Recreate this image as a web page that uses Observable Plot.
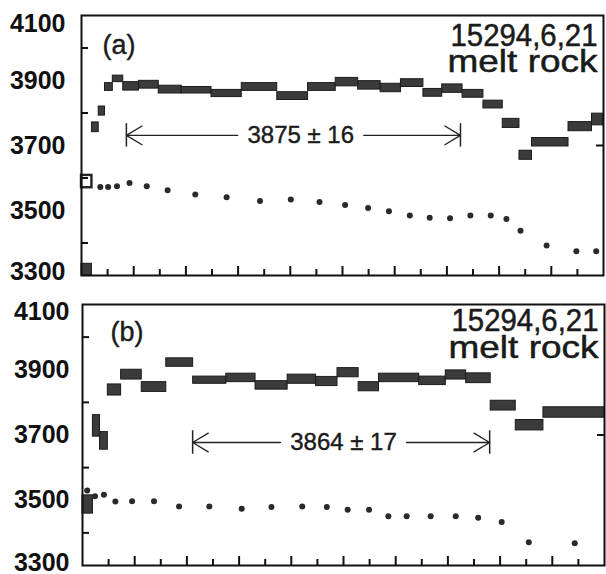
<!DOCTYPE html>
<html><head><meta charset="utf-8">
<script src="https://cdn.jsdelivr.net/npm/d3@7"></script>
<script src="https://cdn.jsdelivr.net/npm/@observablehq/plot@0.6"></script>
<style>
body{margin:0;background:#fff;}
#chart svg{display:block;}
</style>
</head><body><div id="chart"></div>
<script>
// ---------- Panel (a) ----------
const edgesA = [0, 2, 3.3, 4.5, 6, 8, 11, 14.8, 19.2, 24.9, 30.7, 37.5, 43.4, 48.7, 53, 57.3, 61.2, 65.5, 69.1, 73, 77, 80.7, 83.9, 86.3, 93.3, 97.8, 100];
const agesA  = [3318, 3756, 3806, 3880, 3905, 3882, 3887, 3872, 3870, 3860, 3880, 3852, 3880, 3895, 3885, 3877, 3892, 3862, 3875, 3859, 3826, 3768, 3670, 3710, 3758, 3780];
const errA   = [18, 15, 14, 12, 10, 13, 12, 12, 10, 11, 12, 12, 12, 13, 13, 13, 12, 12, 13, 12, 12, 14, 14, 13, 14, 18];
const openEdgesA = [0, 2];
const openAgeA = [3589];
const openErrA = [19];
const dotXA = [3.6, 5.1, 6.8, 9.2, 12.5, 16.5, 21.8, 27.8, 34.2, 40.1, 45.6, 50.5, 54.9, 58.9, 62.9, 66.7, 70.6, 74.5, 78.4, 81.4, 84.1, 89.1, 94.8, 98.6];
const dotYA = [3572, 3572, 3575, 3585, 3575, 3562, 3549, 3541, 3529, 3534, 3526, 3517, 3508, 3498, 3485, 3478, 3476, 3485, 3485, 3474, 3438, 3392, 3375, 3375];
const plateauA = {start: 8.6, end: 72.6, labelX: 42, y: 3731, label: "3875 ± 16"};

// ---------- Panel (b) ----------
const edgesB = [0, 2.0, 3.35, 4.85, 7.4, 11.35, 16.05, 21.2, 27.55, 33.15, 39.3, 44.75, 48.85, 52.9, 56.8, 64.5, 69.6, 73.5, 78.2, 83.0, 88.3, 100];
const agesB  = [3487, 3728, 3682, 3838, 3885, 3847, 3922, 3868, 3875, 3852, 3871, 3864, 3891, 3848, 3875, 3866, 3884, 3874, 3790, 3730, 3769];
const errB   = [28, 33, 27, 17, 15, 15, 13, 11, 13, 13, 14, 14, 14, 14, 13, 13, 14, 15, 15, 16, 16];
const dotXB = [0.9, 2.4, 4.1, 6.3, 9.5, 13.7, 18.5, 24.3, 30.5, 36.2, 42.1, 46.8, 50.8, 54.9, 58.6, 62.1, 66.7, 71.5, 75.8, 80.3, 85.5, 94.3];
const dotYB = [3530, 3512, 3517, 3496, 3497, 3497, 3481, 3481, 3474, 3479, 3481, 3479, 3471, 3471, 3451, 3451, 3451, 3451, 3446, 3433, 3371, 3368];
const plateauB = {start: 21.1, end: 78.0, labelX: 50, y: 3677, label: "3864 ± 17"};

// ---------- shared axis ticks / labels ----------
const yLabels = [3500, 3700, 3900];
const yTop = [4100];
const yBottom = [3300];
const yMinor = [3400, 3600, 3800, 4000];
const yRightTicks = [3700];
const xMajor = [10, 20, 30, 40, 50, 60, 70, 80, 90];
const xMinor = [5, 15, 25, 35, 45, 55, 65, 75, 85, 95];
const sampleId = "15294,6,21";
const sampleType = "melt rock";

const FONT = "'Liberation Sans', Arial, Helvetica, sans-serif";
const BAR_HALF = 36; // half-length of plateau end bars (in age units)

function steps(edges, ages, errs) {
  return ages.map((a, i) => ({x1: edges[i], x2: edges[i + 1], y1: a - errs[i], y2: a + errs[i]}));
}
function dots(xs, ys) { return xs.map((x, i) => ({x, y: ys[i]})); }

function panel(o) {
  const st = steps(o.edges, o.ages, o.errs);
  const pl = o.plateau;
  const pw = 606 - o.ml - o.mr;          // plot area width (px)
  const ph = o.height - o.mt - o.mb;     // plot area height (px)
  const fmt = d => String(d);
  const ink = "#1a1a1a";
  const marks = [
    Plot.rect(st, {x1: "x1", x2: "x2", y1: "y1", y2: "y2", fill: "#3b3b3b", stroke: "#1c1c1c", strokeWidth: 1}),
  ];
  if (o.open) marks.push(Plot.rect(o.open, {x1: "x1", x2: "x2", y1: "y1", y2: "y2", fill: "#fff", stroke: "#222", strokeWidth: 2.4}));
  marks.push(
    Plot.dot(dots(o.dx, o.dy), {x: "x", y: "y", r: 3, fill: "#2a2a2a", stroke: "none"}),
    // plateau arrows
    Plot.arrow([pl], {x1: "labelX", y1: "y", x2: "start", y2: "y", insetStart: 63, headLength: 21, headAngle: 62, stroke: "#222", strokeWidth: 1.3}),
    Plot.arrow([pl], {x1: "labelX", y1: "y", x2: "end", y2: "y", insetStart: 63, headLength: 21, headAngle: 62, stroke: "#222", strokeWidth: 1.3}),
    Plot.ruleX([pl.start, pl.end], {x: d => d, y1: pl.y - BAR_HALF, y2: pl.y + BAR_HALF, stroke: "#222", strokeWidth: 1.5}),
    Plot.text([pl], {x: "labelX", y: "y", text: "label", fontSize: 24, fill: ink, stroke: ink, strokeWidth: 0.4}),
    // inward ticks
    Plot.tickX(xMajor, {x: d => d, insetTop: ph - 9, stroke: "#111", strokeWidth: 2}),
    Plot.tickX(xMinor, {x: d => d, insetTop: ph - 6, stroke: "#111", strokeWidth: 2}),
    Plot.tickY(yMinor, {y: d => d, insetRight: pw - 7, stroke: "#111", strokeWidth: 2}),
    Plot.tickY(yRightTicks, {y: d => d, insetLeft: pw - 7, stroke: "#111", strokeWidth: 2}),
    // frame
    Plot.frame({stroke: "#111", strokeWidth: 2}),
    // y labels
    Plot.axisY(yLabels, {anchor: "left", tickSize: 0, tickPadding: o.pad, tickFormat: fmt, fontSize: 25, fontWeight: "bold", label: null}),
    Plot.axisY(yTop, {anchor: "left", tickSize: 0, tickPadding: o.pad, tickFormat: fmt, fontSize: 25, fontWeight: "bold", dy: o.topDy, label: null}),
    Plot.axisY(yBottom, {anchor: "left", tickSize: 0, tickPadding: o.pad, tickFormat: fmt, fontSize: 25, fontWeight: "bold", dy: o.botDy, label: null}),
    Plot.axisX([], {label: null}),
    // panel letter and sample names
    Plot.text([o.letter], {frameAnchor: "top-left", textAnchor: "start", lineAnchor: "middle", dx: o.letterDx, dy: o.letterDy, fontSize: 27, fill: ink, stroke: ink, strokeWidth: 0.4}),
    Plot.text([sampleId], {frameAnchor: "top-right", textAnchor: "end", lineAnchor: "top", dx: -6, dy: o.idDy, fontSize: 32, fill: ink, stroke: ink, strokeWidth: 0.5}),
    Plot.text([sampleType], {frameAnchor: "top-right", textAnchor: "end", lineAnchor: "top", dx: -6, dy: o.typeDy, fontSize: 32, fill: ink, stroke: ink, strokeWidth: 0.5})
  );
  const svg = Plot.plot({
    width: 606, height: o.height,
    marginTop: o.mt, marginBottom: o.mb, marginLeft: o.ml, marginRight: o.mr,
    x: {domain: [0, 100], label: null},
    y: {domain: [3300, 4100], label: null},
    style: {fontFamily: FONT, color: "#111", background: "#fff", overflow: "visible"},
    marks
  });
  d3.select(svg).selectAll("text").each(function() {
    const t = this.textContent;
    if (t === sampleId) d3.select(this).attr("textLength", 147).attr("lengthAdjust", "spacingAndGlyphs");
    if (t === sampleType) d3.select(this).attr("textLength", 150).attr("lengthAdjust", "spacingAndGlyphs");
  });
  return svg;
}

const openA = openAgeA.map((a, i) => ({x1: openEdgesA[i], x2: openEdgesA[i + 1], y1: a - openErrA[i], y2: a + openErrA[i]}));

const root = document.getElementById("chart");
root.appendChild(panel({
  edges: edgesA, ages: agesA, errs: errA, open: openA, dx: dotXA, dy: dotYA, plateau: plateauA,
  height: 290, mt: 15, mb: 15, ml: 81, mr: 3, pad: 16, topDy: 8, botDy: -4,
  letter: "(a)", letterDx: 21, letterDy: 30, idDy: 8, typeDy: 34
}));
root.appendChild(panel({
  edges: edgesB, ages: agesB, errs: errB, open: null, dx: dotXB, dy: dotYB, plateau: plateauB,
  height: 284, mt: 14, mb: 9, ml: 82, mr: 2, pad: 13, topDy: 7, botDy: -3,
  letter: "(b)", letterDx: 28, letterDy: 28, idDy: 4, typeDy: 31
}));
</script>
</body></html>
